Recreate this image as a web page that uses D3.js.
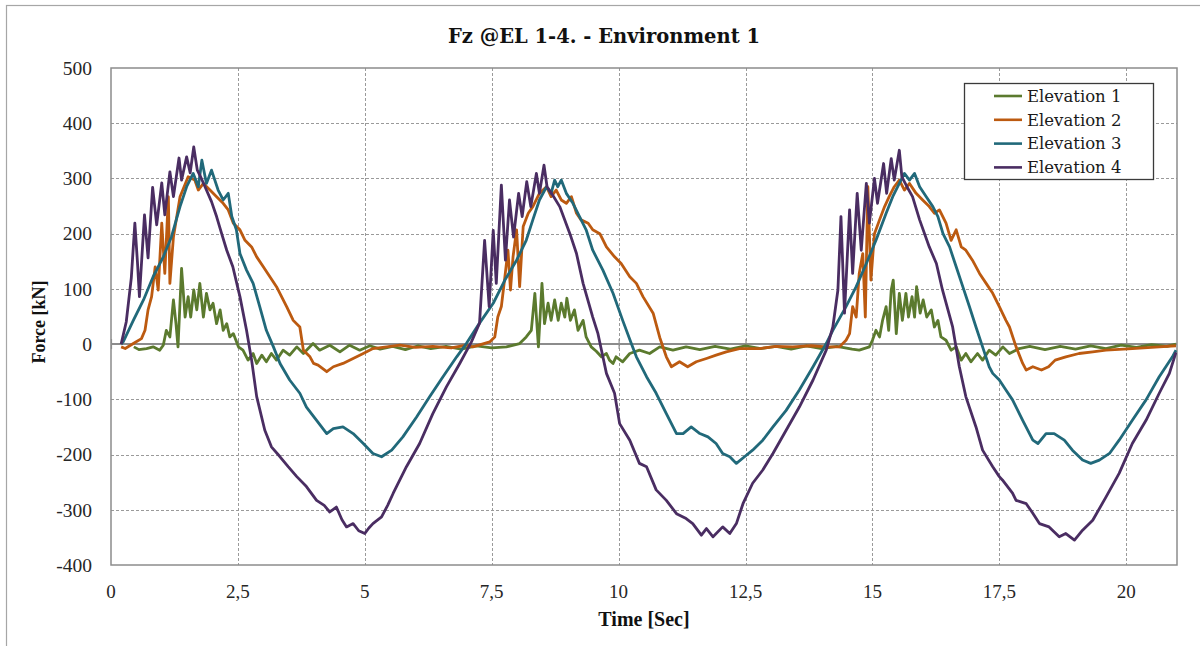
<!DOCTYPE html>
<html>
<head>
<meta charset="utf-8">
<script src="https://cdn.jsdelivr.net/npm/d3@7"></script>
<style>
  html, body { margin: 0; padding: 0; background: #ffffff; }
  svg { display: block; }
</style>
</head>
<body>
<svg id="chart" width="1200" height="646"></svg>
<script>
// ---- chart data: [time (s), force (kN)] ----
const seriesNames = ["Elevation 1", "Elevation 2", "Elevation 3", "Elevation 4"];

const elev1 = [[0.45,-5],[0.55,-10],[0.70,-8],[0.83,-5],[0.96,-11],[1.03,-2],[1.09,25],[1.16,13],[1.23,80],[1.28,37],[1.32,-5],[1.39,137],[1.46,49],[1.52,86],[1.57,49],[1.63,98],[1.69,62],[1.75,110],[1.82,49],[1.88,92],[1.95,62],[2.01,74],[2.08,37],[2.15,62],[2.21,25],[2.28,37],[2.34,13],[2.41,19],[2.51,-5],[2.60,-11],[2.70,-29],[2.80,-17],[2.87,-35],[2.97,-20],[3.06,-32],[3.16,-17],[3.26,-29],[3.39,-11],[3.52,-20],[3.66,-5],[3.79,-17],[3.98,1],[4.11,-11],[4.31,-2],[4.51,-14],[4.70,-2],[4.90,-11],[5.10,-3],[5.30,-9],[5.55,-4],[5.80,-10],[6.05,-3],[6.30,-8],[6.60,-4],[6.90,-9],[7.20,-3],[7.50,-7],[7.79,-5],[8.05,1],[8.18,13],[8.28,25],[8.35,92],[8.42,-5],[8.49,110],[8.54,37],[8.61,74],[8.67,43],[8.74,80],[8.81,43],[8.87,74],[8.94,49],[8.98,83],[9.05,43],[9.13,62],[9.20,25],[9.30,43],[9.36,13],[9.46,-5],[9.56,-13],[9.66,-23],[9.76,-17],[9.82,-29],[9.89,-35],[9.95,-23],[10.08,-32],[10.22,-17],[10.41,-11],[10.61,-17],[10.81,-5],[11.07,-11],[11.33,-5],[11.60,-10],[11.90,-4],[12.20,-9],[12.50,-3],[12.80,-8],[13.10,-4],[13.40,-9],[13.70,-3],[14.00,-8],[14.30,-4],[14.60,-9],[14.74,-11],[14.94,-5],[15.00,7],[15.07,25],[15.14,13],[15.20,43],[15.27,68],[15.32,25],[15.37,98],[15.41,116],[15.47,19],[15.53,92],[15.59,43],[15.66,92],[15.71,49],[15.78,86],[15.83,49],[15.87,104],[15.94,56],[16.00,80],[16.07,49],[16.16,62],[16.22,31],[16.29,43],[16.35,13],[16.45,7],[16.55,-11],[16.65,-5],[16.75,-29],[16.84,-17],[16.94,-32],[17.07,-17],[17.17,-29],[17.30,-11],[17.43,-20],[17.57,-5],[17.70,-17],[17.89,-8],[18.10,-4],[18.40,-10],[18.70,-4],[19.00,-9],[19.30,-3],[19.60,-8],[19.90,-2],[20.20,-6],[20.50,-1],[20.80,-4],[20.98,0]];

const elev2 = [[0.20,-5],[0.28,-8],[0.44,1],[0.60,10],[0.67,25],[0.73,62],[0.80,86],[0.87,140],[0.93,98],[1.00,219],[1.06,128],[1.13,267],[1.16,110],[1.23,194],[1.36,267],[1.52,303],[1.65,297],[1.72,279],[1.82,291],[1.95,279],[2.08,267],[2.21,255],[2.31,243],[2.41,219],[2.54,207],[2.64,188],[2.77,176],[2.87,158],[3.00,140],[3.13,122],[3.26,104],[3.46,68],[3.59,43],[3.72,31],[3.79,-11],[3.92,-23],[3.99,-35],[4.08,-38],[4.25,-50],[4.38,-41],[4.57,-35],[4.77,-26],[4.97,-17],[5.16,-8],[5.43,-5],[5.69,-2],[6.00,-6],[6.34,-4],[6.70,-7],[7.00,-2],[7.13,-5],[7.46,4],[7.56,13],[7.62,49],[7.69,68],[7.76,122],[7.82,170],[7.87,98],[7.92,158],[7.99,207],[8.05,104],[8.12,213],[8.22,237],[8.31,249],[8.44,273],[8.58,285],[8.67,267],[8.77,279],[8.87,261],[8.97,255],[9.07,267],[9.17,237],[9.26,225],[9.40,219],[9.49,207],[9.63,200],[9.76,176],[9.92,158],[10.05,146],[10.22,122],[10.35,110],[10.48,86],[10.68,56],[10.81,12],[10.94,-23],[11.04,-41],[11.20,-32],[11.36,-41],[11.53,-32],[11.73,-26],[11.92,-20],[12.12,-14],[12.38,-8],[12.78,-8],[13.10,-4],[13.43,-5],[13.80,-3],[14.09,-5],[14.35,-5],[14.48,7],[14.55,19],[14.61,68],[14.68,49],[14.74,128],[14.81,164],[14.86,49],[14.91,285],[14.97,116],[15.04,200],[15.14,225],[15.24,249],[15.33,267],[15.43,285],[15.53,297],[15.63,279],[15.73,291],[15.86,273],[15.99,261],[16.12,249],[16.22,237],[16.32,243],[16.45,219],[16.55,188],[16.65,207],[16.75,176],[16.84,170],[16.97,152],[17.11,128],[17.24,110],[17.37,92],[17.50,68],[17.63,43],[17.70,31],[17.83,-5],[17.96,-35],[18.03,-47],[18.16,-41],[18.33,-47],[18.47,-41],[18.60,-29],[18.81,-23],[19.07,-17],[19.34,-14],[19.60,-11],[20.12,-8],[20.65,-5],[20.98,-3]];

const elev3 = [[0.20,0],[0.24,4],[0.44,43],[0.64,80],[0.83,122],[1.03,158],[1.19,194],[1.36,249],[1.49,285],[1.62,309],[1.72,285],[1.79,333],[1.88,291],[1.98,315],[2.11,279],[2.21,261],[2.31,273],[2.38,231],[2.47,207],[2.54,164],[2.67,134],[2.80,110],[2.93,68],[3.06,25],[3.20,-5],[3.33,-35],[3.52,-65],[3.72,-89],[3.85,-114],[4.05,-138],[4.25,-162],[4.38,-153],[4.57,-150],[4.77,-162],[4.97,-180],[5.16,-198],[5.33,-204],[5.53,-192],[5.75,-168],[6.02,-132],[6.28,-95],[6.54,-59],[6.81,-23],[7.00,1],[7.26,38],[7.53,74],[7.76,116],[7.99,152],[8.18,188],[8.31,225],[8.44,261],[8.58,285],[8.67,273],[8.74,297],[8.80,285],[8.87,297],[8.97,273],[9.10,255],[9.23,231],[9.36,207],[9.49,170],[9.69,134],[9.89,92],[10.08,43],[10.25,1],[10.35,-23],[10.55,-59],[10.74,-89],[10.94,-126],[11.14,-162],[11.27,-162],[11.43,-150],[11.60,-162],[11.76,-168],[11.92,-180],[12.05,-198],[12.19,-204],[12.32,-216],[12.48,-204],[12.64,-192],[12.84,-174],[13.04,-150],[13.30,-120],[13.56,-83],[13.83,-41],[14.09,1],[14.22,25],[14.48,68],[14.68,104],[14.88,146],[15.07,188],[15.27,237],[15.40,267],[15.53,291],[15.63,309],[15.73,297],[15.83,309],[15.93,285],[16.06,267],[16.19,249],[16.29,231],[16.39,200],[16.52,176],[16.65,140],[16.78,104],[16.91,68],[17.04,31],[17.17,-5],[17.30,-41],[17.37,-53],[17.50,-65],[17.63,-83],[17.76,-101],[17.96,-138],[18.16,-174],[18.26,-180],[18.42,-162],[18.58,-162],[18.78,-174],[18.94,-192],[19.14,-210],[19.30,-216],[19.47,-210],[19.67,-198],[19.86,-174],[20.12,-138],[20.39,-101],[20.65,-59],[20.91,-23],[20.98,-11]];

const elev4 = [[0.20,0],[0.21,4],[0.30,40],[0.40,120],[0.47,219],[0.52,150],[0.56,86],[0.61,160],[0.66,234],[0.73,156],[0.82,284],[0.90,216],[1.00,292],[1.06,234],[1.16,312],[1.23,267],[1.34,337],[1.39,297],[1.49,339],[1.56,310],[1.63,357],[1.70,315],[1.78,300],[1.88,279],[1.98,258],[2.08,231],[2.18,200],[2.28,170],[2.40,140],[2.54,86],[2.67,25],[2.77,-29],[2.87,-95],[3.03,-156],[3.16,-186],[3.33,-204],[3.49,-222],[3.66,-240],[3.85,-258],[4.05,-283],[4.20,-292],[4.31,-304],[4.44,-295],[4.55,-318],[4.64,-331],[4.77,-325],[4.88,-338],[5.00,-343],[5.08,-333],[5.16,-325],[5.33,-313],[5.45,-292],[5.56,-270],[5.82,-222],[6.08,-180],[6.34,-126],[6.61,-77],[6.87,-35],[7.10,4],[7.26,38],[7.36,188],[7.45,68],[7.53,206],[7.59,110],[7.69,288],[7.77,152],[7.85,261],[7.93,194],[8.03,273],[8.10,231],[8.19,294],[8.27,249],[8.38,309],[8.44,273],[8.53,324],[8.59,285],[8.70,270],[8.84,249],[9.04,200],[9.17,164],[9.30,110],[9.49,49],[9.59,20],[9.69,-23],[9.76,-53],[9.92,-89],[10.02,-144],[10.22,-174],[10.41,-216],[10.55,-222],[10.74,-264],[10.94,-283],[11.14,-307],[11.33,-316],[11.46,-325],[11.63,-346],[11.73,-334],[11.86,-349],[12.05,-331],[12.19,-343],[12.32,-325],[12.45,-289],[12.64,-252],[12.84,-228],[13.04,-198],[13.30,-156],[13.56,-114],[13.83,-65],[14.09,-11],[14.22,31],[14.32,98],[14.38,231],[14.45,56],[14.55,243],[14.61,128],[14.70,273],[14.78,170],[14.88,291],[14.94,219],[15.04,300],[15.10,255],[15.22,327],[15.28,273],[15.37,336],[15.43,297],[15.53,351],[15.58,303],[15.68,285],[15.79,267],[15.93,225],[16.12,176],[16.26,146],[16.38,98],[16.58,31],[16.71,-40],[16.84,-95],[17.04,-150],[17.17,-192],[17.37,-222],[17.50,-240],[17.56,-246],[17.76,-270],[17.83,-283],[18.03,-289],[18.15,-305],[18.29,-325],[18.48,-331],[18.68,-349],[18.81,-343],[18.98,-355],[19.14,-337],[19.34,-319],[19.60,-277],[19.86,-234],[20.12,-180],[20.39,-138],[20.65,-89],[20.85,-53],[20.98,-15]];

const seriesColors = ["#5b7a2e", "#bc5a10", "#21697a", "#4a2d62"];

const xTicks = [0, 2.5, 5, 7.5, 10, 12.5, 15, 17.5, 20];
const xTickLabels = ["0", "2,5", "5", "7,5", "10", "12,5", "15", "17,5", "20"];
const yTicks = [-400, -300, -200, -100, 0, 100, 200, 300, 400, 500];

const titleText = "Fz @EL 1-4. - Environment 1";
const xAxisTitle = "Time [Sec]";
const yAxisTitle = "Force [kN]";

// ---- layout ----
const plot = { left: 111, top: 68, right: 1177, bottom: 565 };
const svg = d3.select("#chart");

const x = d3.scaleLinear().domain([0, 21]).range([plot.left, plot.right]);
const y = d3.scaleLinear().domain([-400, 500]).range([plot.bottom, plot.top]);

// outer chart frame
svg.append("rect")
  .attr("x", 6.5).attr("y", 5.5)
  .attr("width", 1210).attr("height", 700)
  .attr("fill", "#ffffff")
  .attr("stroke", "#a6a6a6").attr("stroke-width", 1.2);

// dashed grid
const grid = svg.append("g").attr("class", "grid");
grid.selectAll("line.vg")
  .data(xTicks.filter(t => t > 0))
  .join("line")
  .attr("class", "vg")
  .attr("x1", d => Math.round(x(d)) + 0.5).attr("x2", d => Math.round(x(d)) + 0.5)
  .attr("y1", plot.top).attr("y2", plot.bottom)
  .attr("stroke", "#9a9a9a").attr("stroke-width", 1)
  .attr("stroke-dasharray", "3,2");
grid.selectAll("line.hg")
  .data(yTicks.filter(v => v !== 0 && v > -400 && v < 500))
  .join("line")
  .attr("class", "hg")
  .attr("x1", plot.left).attr("x2", plot.right)
  .attr("y1", d => Math.round(y(d)) + 0.5).attr("y2", d => Math.round(y(d)) + 0.5)
  .attr("stroke", "#9a9a9a").attr("stroke-width", 1)
  .attr("stroke-dasharray", "3,2");

// plot-area border
svg.append("rect")
  .attr("x", plot.left).attr("y", plot.top)
  .attr("width", plot.right - plot.left).attr("height", plot.bottom - plot.top)
  .attr("fill", "none").attr("stroke", "#8c8c8c").attr("stroke-width", 1.5);

// horizontal axis at zero force, with crossing tick marks
const xAxis = d3.axisBottom(x)
  .tickValues(xTicks)
  .tickSizeInner(10)
  .tickSizeOuter(0)
  .tickFormat(() => "");
const xAxisG = svg.append("g")
  .attr("transform", `translate(0,${y(0) - 5})`)
  .call(xAxis);
xAxisG.select(".domain").remove();
xAxisG.selectAll(".tick line").attr("stroke", "#8c8c8c").attr("stroke-width", 1.2);
svg.append("line")
  .attr("x1", plot.left).attr("x2", plot.right)
  .attr("y1", y(0)).attr("y2", y(0))
  .attr("stroke", "#8c8c8c").attr("stroke-width", 2);

// tick labels
const labelFont = "'Liberation Serif', 'DejaVu Serif', serif";
const wideSerif = "'DejaVu Serif', 'Liberation Serif', serif";
svg.append("g").selectAll("text")
  .data(yTicks)
  .join("text")
  .attr("x", 92).attr("y", d => y(d))
  .attr("dy", "0.35em")
  .attr("text-anchor", "end")
  .attr("font-family", labelFont).attr("font-size", 19.5)
  .attr("fill", "#262626")
  .text(d => d);

svg.append("g").selectAll("text")
  .data(xTicks)
  .join("text")
  .attr("x", d => x(d)).attr("y", 598)
  .attr("text-anchor", "middle")
  .attr("font-family", labelFont).attr("font-size", 19)
  .attr("fill", "#262626")
  .text((d, i) => xTickLabels[i]);

// titles
svg.append("text")
  .attr("x", 604).attr("y", 43)
  .attr("text-anchor", "middle")
  .attr("font-family", wideSerif).attr("font-weight", "bold").attr("font-size", 19.5)
  .attr("fill", "#111111")
  .text(titleText);

svg.append("text")
  .attr("x", 644).attr("y", 626)
  .attr("text-anchor", "middle")
  .attr("font-family", labelFont).attr("font-weight", "bold").attr("font-size", 20)
  .attr("fill", "#111111")
  .text(xAxisTitle);

svg.append("text")
  .attr("transform", `translate(45,322) rotate(-90)`)
  .attr("text-anchor", "middle")
  .attr("font-family", labelFont).attr("font-weight", "bold").attr("font-size", 18)
  .attr("fill", "#111111")
  .text(yAxisTitle);

// series lines
const allSeries = [elev1, elev2, elev3, elev4];
const line = d3.line().x(d => x(d[0])).y(d => y(d[1]));
svg.append("clipPath").attr("id", "plotClip")
  .append("rect")
  .attr("x", plot.left).attr("y", plot.top)
  .attr("width", plot.right - plot.left).attr("height", plot.bottom - plot.top);
svg.append("g").attr("clip-path", "url(#plotClip)")
  .selectAll("path")
  .data(allSeries)
  .join("path")
  .attr("d", line)
  .attr("fill", "none")
  .attr("stroke", (d, i) => seriesColors[i])
  .attr("stroke-width", 2.8)
  .attr("stroke-linejoin", "round");

// legend
const legend = svg.append("g").attr("transform", "translate(964,83)");
legend.append("rect")
  .attr("x", 0.5).attr("y", 0.5).attr("width", 189).attr("height", 96)
  .attr("fill", "#ffffff").attr("stroke", "#3a3a3a").attr("stroke-width", 1.3);
const items = legend.selectAll("g.item")
  .data(seriesNames)
  .join("g")
  .attr("class", "item")
  .attr("transform", (d, i) => `translate(0,${13 + i * 23.8})`);
items.append("line")
  .attr("x1", 30).attr("x2", 58).attr("y1", 0).attr("y2", 0)
  .attr("stroke", (d, i) => seriesColors[i]).attr("stroke-width", 2.6);
items.append("text")
  .attr("x", 63).attr("y", 0).attr("dy", "0.35em")
  .attr("font-family", wideSerif).attr("font-size", 16.5)
  .attr("fill", "#1a1a1a")
  .text(d => d);
</script>
</body>
</html>
